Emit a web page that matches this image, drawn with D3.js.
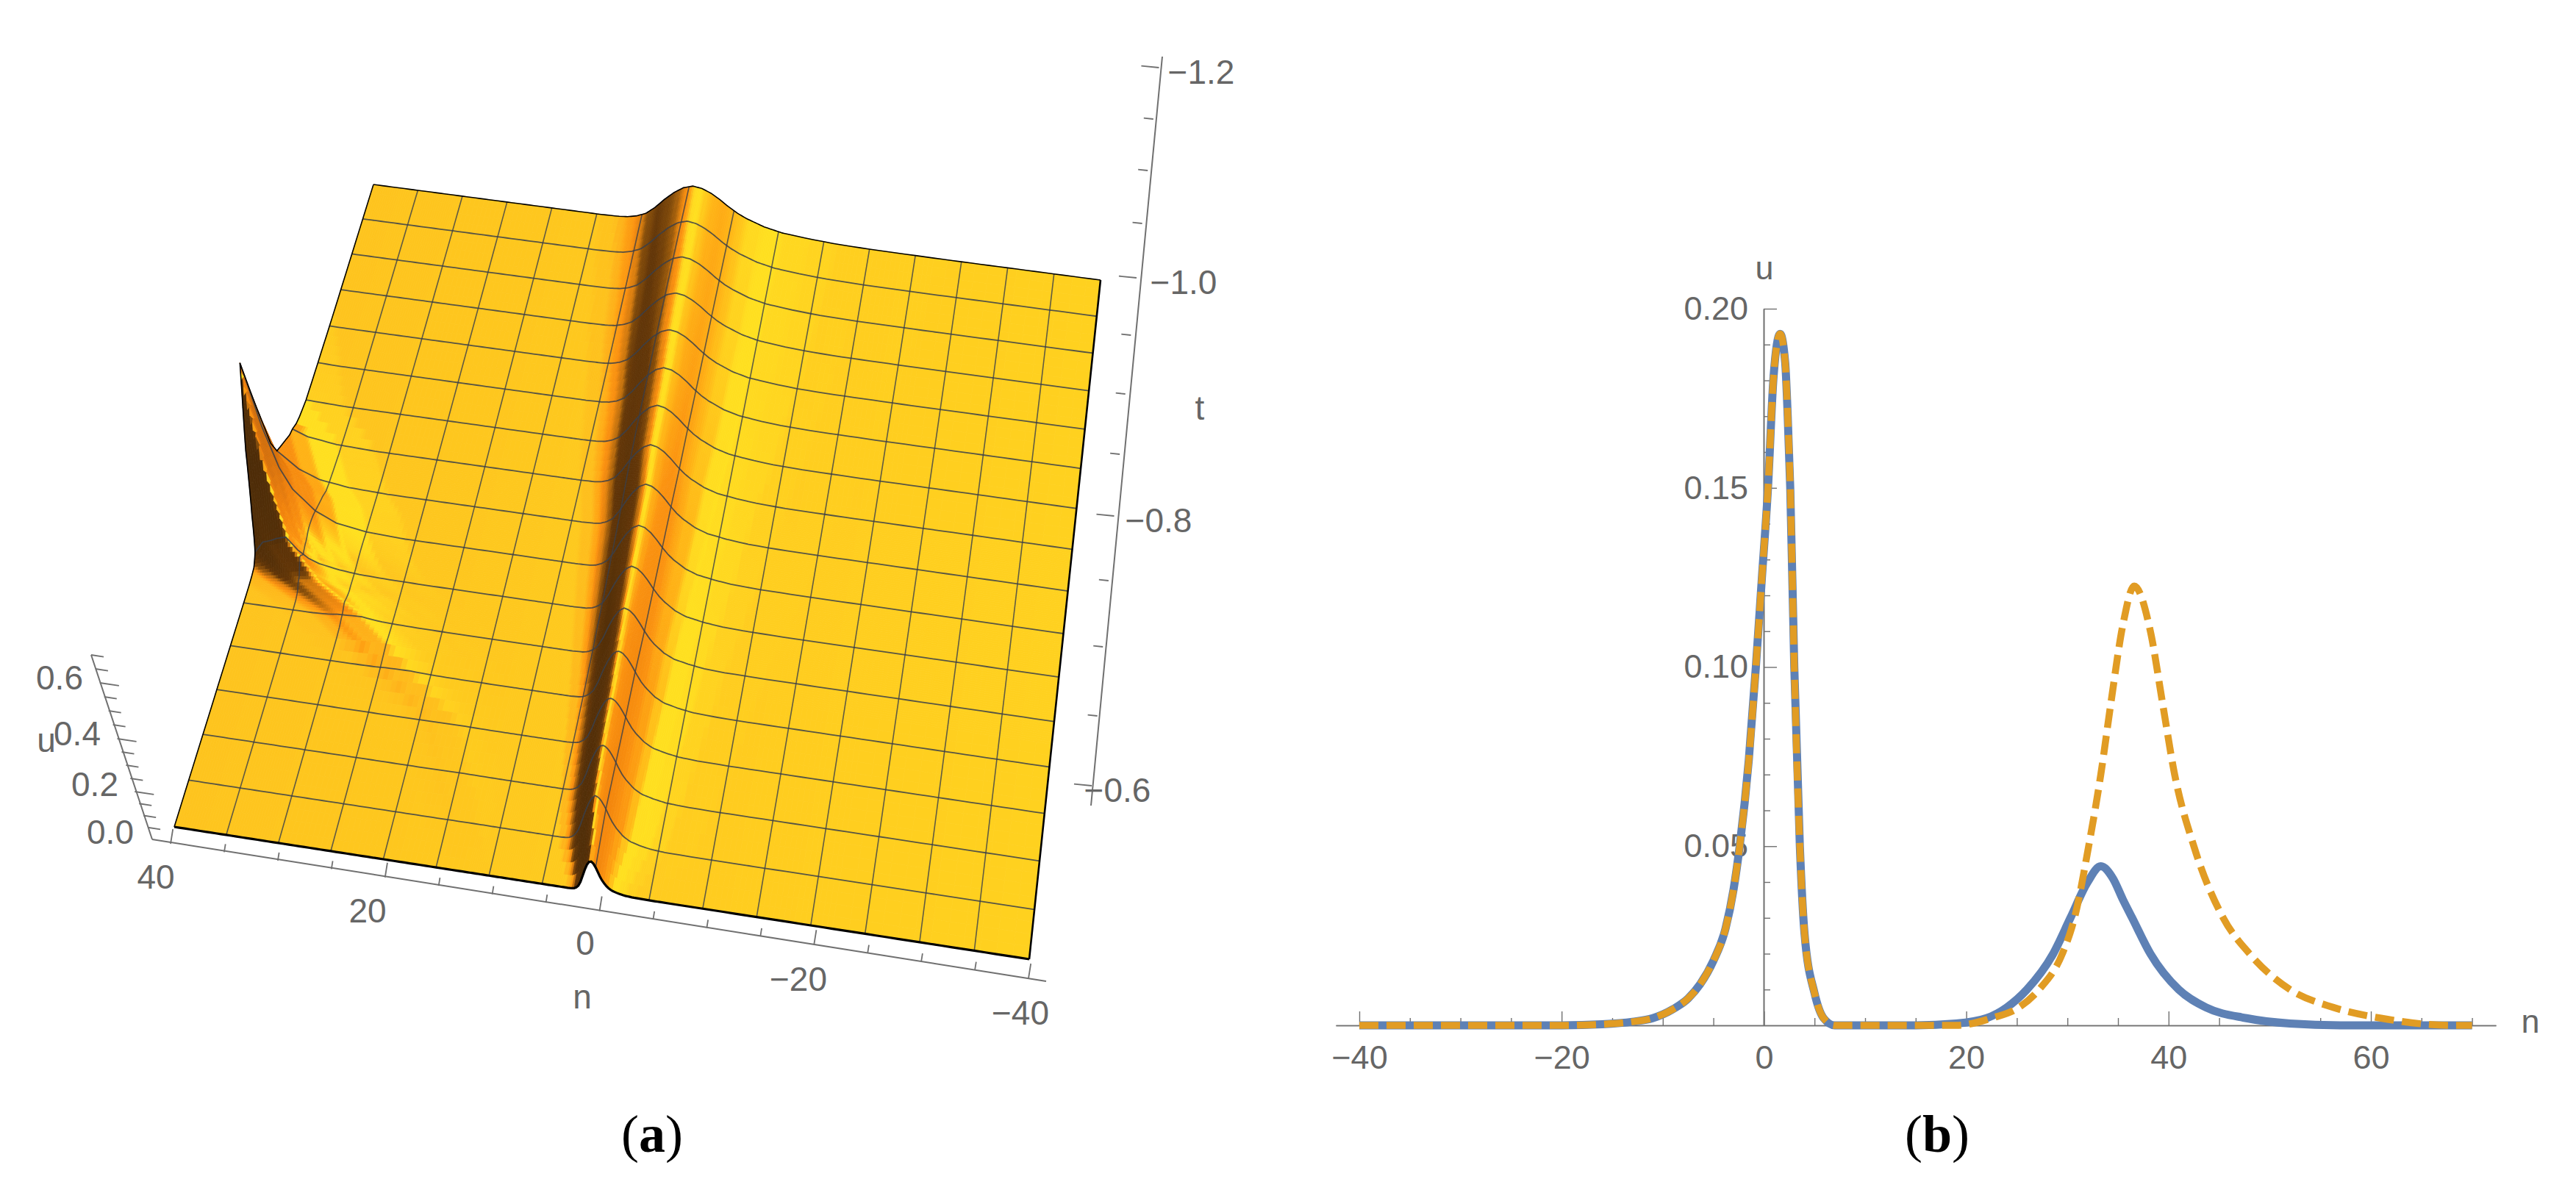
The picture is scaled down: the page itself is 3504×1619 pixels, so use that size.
<!DOCTYPE html>
<html><head><meta charset="utf-8">
<script src="https://cdnjs.cloudflare.com/ajax/libs/d3/7.8.5/d3.min.js"></script>
<style>html,body{margin:0;padding:0;background:#fff}svg{display:block}text{font-family:"Liberation Sans",Arial,sans-serif;fill:#666}</style>
</head><body><svg id="c" width="3504" height="1619"></svg>
<script>
// ---- panel (b) data ----
const peakN  = [-40,-30,-20,-16,-13,-11,-9,-7.5,-6.3,-5,-3.8,-3,-2.4,-1.5,-0.8,-0.2,0.4,0.95,1.6,2.1,2.35,2.6,3,3.55,4,5,5.9,7];
const peakU  = [0,0,0,0.0003,0.001,0.002,0.0045,0.0075,0.0115,0.018,0.027,0.038,0.05,0.074,0.1,0.125,0.15,0.181,0.193,0.185,0.17,0.15,0.1,0.05,0.026,0.009,0.002,0];
const blueN2 = [10,15,19,22,24,26,28.6,30.3,32,33.3,34.5,35.5,36.4,38.2,41,43.7,47.7,52,57,70];
const blueU2 = [0,0,0.0005,0.002,0.005,0.01,0.02,0.03,0.04,0.0444,0.041,0.035,0.03,0.02,0.01,0.005,0.002,0.0005,0,0];
const orgN2  = [10,19,22.5,25.2,27.2,29.5,30.7,32.1,33.3,34.3,35.5,36.6,38.2,39.4,40.6,42.5,45.4,48,52,56.3,61,68,70];
const orgU2  = [0,0,0.002,0.005,0.01,0.02,0.03,0.05,0.07,0.09,0.112,0.1226,0.11,0.09,0.07,0.05,0.03,0.02,0.01,0.005,0.002,0,0];
const xMajorB = [-40,-20,0,20,40,60];
const xMinorB = [-35,-30,-25,-15,-10,-5,5,10,15,25,30,35,45,50,55,65,70];
const yMajorB = [0.05,0.10,0.15,0.20];
const yMinorB = [0.01,0.02,0.03,0.04,0.06,0.07,0.08,0.09,0.11,0.12,0.13,0.14,0.16,0.17,0.18,0.19];

// ---- panel (a) surface data (per mesh row, back to front) ----
const meshRows    = [0,1,2,3,4,5,6,7,8,9,10,11,12,13,14,15,16];
const ridgeCentre = [4.6,4.4,4.1,3.9,3.7,3.4,3.2,3.0,2.6,2.4,2.2,2.0,1.7,1.5,1.3,1.0,0.5];
const ridgeHeight = [.196,.196,.197,.198,.2,.2,.205,.205,.21,.21,.215,.22,.225,.215,.21,.195,.125];
const ridgeWidth  = [1,.97,.93,.9,.85,.8,.76,.7,.64,.6,.55,.5,.46,.42,.38,.33,.2];
const screenLeftD = [0,1,2,3,4,5,6,7,8,10];            // n above the crest
const screenLeftU = [1,.93,.78,.58,.35,.17,.08,.03,.01,0];
const screenRightD= [0,1,2,3,4,5,6,8,10,13,16,20,28];  // n below the crest
const screenRightU= [1,.97,.88,.75,.6,.47,.37,.22,.13,.07,.03,.01,0];
const sideRows    = [0,6,7,8,8.5,9,9.5,9.75,10,10.4,11,12,13,16];
const sideCentre  = [60,50,45.5,43,41,40,38.7,37.7,36.5,33.5,28,22,16,10];
const sideHeight  = [0,.6,.6,.6,.62,.72,.48,.28,.13,.045,.015,.006,.002,0];
const sideBelowD  = [0,1,2,3,5,7,10,14];
const sideBelowU  = [1,.6,.35,.22,.1,.04,.01,0];
const sideAboveD  = [0,1,1.5,2.5,3.5,5,8,12];
const sideAboveU  = [1,.9,.82,.7,.3,.08,.01,0];
// shading: signed slope of the surface -> colour
const shadeSlope  = [-.6,-.2,-.1,-.045,-.028,-.02,-.014,-.008,-.003,0,.003,.008,.015,.025,.035,.05,.1,.3];
const shadeWarm   = ["#b5640e","#d8720c","#f0820c","#fb9310","#ffb015","#ffc41a","#ffdc20","#ffe020","#ffd21f","#fec41e","#feb81c","#ffa514","#f98f10","#c8740e","#8a500a","#633608","#553008","#4a2a08"];
const shadeCool   = ["#b5640e","#d8720c","#f0820c","#fb9310","#ffb015","#ffc41a","#ffdc20","#ffe020","#ffd820","#ffd11f","#feb81c","#ffa514","#f98f10","#c8740e","#8a500a","#633608","#553008","#4a2a08"];
// axes of panel (a)
const tTicksMajor = [-1.2,-1.0,-0.8,-0.6];
const tTicks = [-1.2,-1.15,-1.1,-1.05,-1,-.95,-.9,-.85,-.8,-.75,-.7,-.65,-.6];
const uTicks = [0,.05,.1,.15,.2,.25,.3,.35,.4,.45,.5,.55,.6,.65,.7];
const uTicksMajor = [0,.2,.4,.6];
const nTicks = [40,35,30,25,20,15,10,5,0,-5,-10,-15,-20,-25,-30,-35,-40];
const nTicksMajor = [40,20,0,-20,-40];

const svg = d3.select("#c");

// ---- projection of panel (a) ----
const P = [[508,251],[1497,381],[1400,1305],[237,1125]];
const homog = (function(){
  const [x0,y0]=P[0],[x1,y1]=P[1],[x2,y2]=P[2],[x3,y3]=P[3];
  const sx=x0-x1+x2-x3, sy=y0-y1+y2-y3, dx1=x1-x2, dx2=x3-x2, dy1=y1-y2, dy2=y3-y2;
  const den=dx1*dy2-dx2*dy1, g=(sx*dy2-dx2*sy)/den, h=(dx1*sy-sx*dy1)/den;
  return {a:x1-x0+g*x1,b:x3-x0+h*x3,c:x0,d:y1-y0+g*y1,e:y3-y0+h*y3,f:y0,g,h};
})();
const nFrac = d3.scaleLinear().domain([40,-40]).range([0,1]);
const rowFrac = d3.scaleLinear().domain([0,16]).range([0,1]);
const vanish = [800,3000];
const wFront = homog.h+1;
const pxPerU = 325*wFront;
function project(n,r,u){
  const a=nFrac(n), b=rowFrac(r), H=homog;
  const w=H.g*a+H.h*b+1;
  const x=(H.a*a+H.b*b+H.c)/w, y=(H.d*a+H.e*b+H.f)/w;
  const dx=x-vanish[0], dy=y-vanish[1], L=Math.hypot(dx,dy), k=u*pxPerU/w/L;
  return [x+dx*k, y+dy*k];
}
// ---- surface heights, built from the tables above ----
const cClamp=(d,r)=>d3.scaleLinear().domain(d).range(r).clamp(true);
const rCentre=cClamp(meshRows,ridgeCentre), rHeight=cClamp(meshRows,ridgeHeight), rWidth=cClamp(meshRows,ridgeWidth);
const gLeft=cClamp(screenLeftD,screenLeftU), gRight=cClamp(screenRightD,screenRightU);
const sCentre=cClamp(sideRows,sideCentre), sHeight=cClamp(sideRows,sideHeight);
const gBelow=cClamp(sideBelowD,sideBelowU), gAbove=cClamp(sideAboveD,sideAboveU);
function surf(n,r){
  const d=(n-rCentre(r))/rWidth(r);
  const main=rHeight(r)*(d>=0?gLeft(d):gRight(-d));
  const sd=n-sCentre(r);
  const side=sHeight(r)*(sd>=0?gAbove(sd):gBelow(-sd));
  return main+side;
}
const shadeW=d3.scaleLinear().domain(shadeSlope).range(shadeWarm).clamp(true);
const shadeC=d3.scaleLinear().domain(shadeSlope).range(shadeCool).clamp(true);
function colour(n,r){
  const dn=n>20?.4:Math.max(.12,.4*rWidth(r)), dr=.08;
  const sx=(surf(n-dn,r)-surf(n+dn,r))/(2*dn);   // rising towards the right of the screen
  const sy=-(surf(n,r+dr)-surf(n,r-dr))/(2*dr)/5; // falling towards the viewer
  return d3.interpolateRgb(shadeW(sx+sy),shadeC(sx+sy))(nFrac(n));
}
const cols=[].concat(d3.range(40,30,-.25),d3.range(30,12,-.5),d3.range(12,-6,-.2),d3.range(-6,-22,-.5),d3.range(-22,-40,-1.5),[-40]);
const rowsFine=[].concat(d3.range(0,7,.25),d3.range(7,11.5,.05),d3.range(11.5,16,.25),[16]);
const cells=[];
for(let j=0;j<rowsFine.length-1;j++){
  const r0=rowsFine[j], r1=rowsFine[j+1];
  for(let i=0;i<cols.length-1;i++){
    cells.push({n0:cols[i],n1:cols[i+1],r0,r1});
  }
}
const gSurf=svg.append("g");
const quad=d=>{
  const a=project(d.n0,d.r0,surf(d.n0,d.r0)),b=project(d.n1,d.r0,surf(d.n1,d.r0)),
        c=project(d.n1,d.r1,surf(d.n1,d.r1)),e=project(d.n0,d.r1,surf(d.n0,d.r1));
  return `M${a[0].toFixed(1)},${a[1].toFixed(1)}L${b[0].toFixed(1)},${b[1].toFixed(1)}L${c[0].toFixed(1)},${c[1].toFixed(1)}L${e[0].toFixed(1)},${e[1].toFixed(1)}Z`;
};
gSurf.selectAll("path").data(cells).join("path")
  .attr("d",quad)
  .each(function(d){const col=colour((d.n0+d.n1)/2,(d.r0+d.r1)/2);this.setAttribute("fill",col);this.setAttribute("stroke",col);})
  .attr("stroke-width",.8);

// mesh
const lineA=d3.line().curve(d3.curveLinear);
const gMesh=svg.append("g").attr("fill","none");
const rowLines=d3.range(1,16), colLines=d3.range(35,-40,-5);
const rowLineFine=[].concat(d3.range(40,12,-.5),d3.range(12,-6,-.2),d3.range(-6,-40.01,-1),[-40]);
gMesh.selectAll("path.r").data(rowLines).join("path").attr("class","r")
  .attr("d",r=>lineA(rowLineFine.map(n=>project(n,r,surf(n,r)))))
  .attr("stroke","#3a3f4a").attr("stroke-width",1.8).attr("stroke-opacity",.85);
gMesh.selectAll("path.c").data(colLines).join("path").attr("class","c")
  .attr("d",n=>lineA(rowsFine.map(r=>project(n,r,surf(n,r)))))
  .attr("stroke","#3a3f4a").attr("stroke-width",1.6).attr("stroke-opacity",.8);
// edges of the surface
const gEdge=svg.append("g").attr("fill","none").attr("stroke","#000");
gEdge.append("path").attr("d",lineA(rowLineFine.map(n=>project(n,0,surf(n,0))))).attr("stroke-width",1.6);
gEdge.append("path").attr("d",lineA(rowLineFine.map(n=>project(n,16,surf(n,16))))).attr("stroke-width",3.2);
gEdge.append("path").attr("d",lineA(rowsFine.map(r=>project(40,r,surf(40,r))))).attr("stroke-width",1.6);
gEdge.append("path").attr("d",lineA(rowsFine.map(r=>project(-40,r,surf(-40,r))))).attr("stroke-width",2.6);

// axes of panel (a)
const gray="#707070";
const gAx=svg.append("g");
function segment(p,q,w){gAx.append("line").attr("x1",p[0]).attr("y1",p[1]).attr("x2",q[0]).attr("y2",q[1]).attr("stroke",gray).attr("stroke-width",w||2);}
function label(x,y,s,size){return svg.append("text").attr("x",x).attr("y",y).attr("text-anchor","middle").attr("font-size",size||46).text(s);}
const fmt1=d3.format(".1f");
// n axis
const nX=d3.scaleLinear().domain([40,-40]).range([232,1399]);
const nY=d3.scaleLinear().domain([40,-40]).range([1148,1331]);
segment([207,1142],[1423,1335]);
nTicks.forEach(n=>{
  const L=nTicksMajor.includes(n)?20:11;
  segment([nX(n),nY(n)],[nX(n)+L*.16,nY(n)-L],1.8);
});
const nLabelX=[212,500,796,1086,1388], nLabelY=[1209,1255,1299,1348,1394];
nTicksMajor.forEach((n,i)=>label(nLabelX[i],nLabelY[i],d3.format("d")(n)));
label(792,1372,"n");
// u axis
const uY=d3.scaleLinear().domain([0,.2,.4,.6,.7]).range([1142,1077,1005,929,891]);
const uX=d3.scaleLinear().domain([0,.7]).range([207,124]);
segment([uX(0),uY(0)],[uX(.7),uY(.7)]);
uTicks.forEach(u=>{
  if(u===0) return;
  const L=uTicksMajor.includes(u)?26:17;
  segment([uX(u),uY(u)],[uX(u)+L,uY(u)+L*.15],1.8);
});
const uLabelX=[150,129,105,81], uLabelY=[1132,1067,998,922];
uTicksMajor.forEach((u,i)=>label(uLabelX[i],uLabelY[i]+16,fmt1(u)));
label(63,1023,"u");
// t axis
const tY=d3.scaleLinear().domain(tTicks).range([92,162,232,304,378,456,536,618,702,790,880,974,1069]);
const tX=d3.scaleLinear().domain([-1.23,-0.6]).range([1581,1485]);
segment([tX(-1.23),77],[1484,1096]);
tTicks.forEach(t=>{
  const L=tTicksMajor.includes(t)?24:13;
  segment([tX(t),tY(t)],[tX(t)-L,tY(t)-L*.1],1.8);
});
const tLabelX=[1634,1610,1576,1520];
tTicksMajor.forEach((t,i)=>label(tLabelX[i],tY(t)+22,d3.format(".1f")(t)));
label(1632,571,"t");

// ---- panel (b) ----
const xB=d3.scaleLinear().domain([-40,60]).range([1849,3225]);
const yB=d3.scaleLinear().domain([0,0.2]).range([1395,420]);
const xFull=xB.copy().domain([xB.invert(1817),xB.invert(3395)]).range([1817,3395]);
const axB=svg.append("g").attr("transform","translate(0,1395)").attr("font-size",45);
function styleAxis(g){g.attr("font-family",null).attr("font-size",45);g.selectAll("path.domain").attr("stroke",gray).attr("stroke-width",1.6);g.selectAll("line").attr("stroke",gray).attr("stroke-width",1.4);g.selectAll("text").attr("fill","#666");}
axB.call(d3.axisBottom(xFull).tickValues(xMajorB).tickSize(-19).tickSizeOuter(0).tickPadding(27).tickFormat(d3.format("d"))).call(styleAxis);
svg.append("g").attr("transform","translate(0,1395)").call(d3.axisBottom(xFull).tickValues(xMinorB).tickSize(-10).tickSizeOuter(0).tickFormat("")).call(styleAxis);
svg.append("g").attr("transform","translate(2399,0)").call(d3.axisLeft(yB).tickValues(yMajorB).tickSize(-18).tickSizeOuter(0).tickPadding(21).tickFormat(d3.format(".2f"))).call(styleAxis);
svg.append("g").attr("transform","translate(2399,0)").call(d3.axisLeft(yB).tickValues(yMinorB).tickSize(-9).tickSizeOuter(0).tickFormat("")).call(styleAxis);
label(3442,1405,"n",45);
label(2400,380,"u",45);

const lineB=d3.line().x(d=>xB(d[0])).y(d=>yB(d[1])).curve(d3.curveMonotoneX);
const blue=d3.zip(peakN.concat(blueN2),peakU.concat(blueU2));
const org=d3.zip(peakN.concat(orgN2),peakU.concat(orgU2));
svg.append("path").attr("d",lineB(blue)).attr("fill","none").attr("stroke","#5E81B5").attr("stroke-width",11);
svg.append("path").attr("d",lineB(org)).attr("fill","none").attr("stroke","#E19C24").attr("stroke-width",9.5).attr("stroke-dasharray","26 11");

// captions
function caption(x,letter){
  const t=svg.append("text").attr("x",x).attr("y",1567).attr("text-anchor","middle").attr("font-size",72)
    .style("font-family","'Liberation Serif',serif").style("fill","#000");
  t.append("tspan").text("(");
  t.append("tspan").attr("font-weight","bold").text(letter);
  t.append("tspan").text(")");
}
caption(887,"a"); caption(2635,"b");
</script></body></html>
